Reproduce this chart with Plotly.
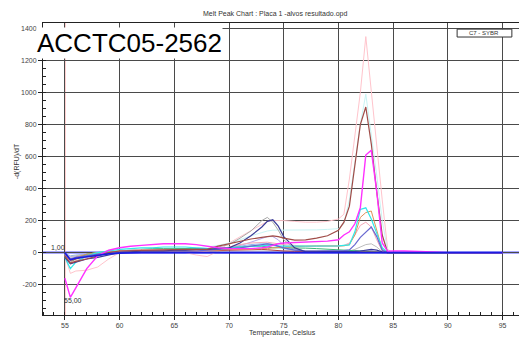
import plotly.graph_objects as go

# Temperatures (Celsius)
T = [55, 55.5, 56,
     57, 58, 59, 60, 61, 62, 63, 64, 65, 66,
     67, 68, 69, 70, 71, 72, 73,
     73.5, 74, 74.5, 75,
     76, 77, 78, 79, 80,
     80.5, 81, 81.5, 82, 82.5, 83, 83.5, 84, 84.5, 85,
     86, 88, 90, 95]

pink_hi = [-20, -130, -115,
           -110, -90, -40, 0, 10, 15, 20, 15, 10, 0,
           -15, -25, 10, 60, 100, 140, 180,
           195, 200, 200, 200,
           195, 190, 190, 195, 210,
           240, 460, 730, 1000, 1350, 1000, 680, 330, 20, 0,
           0, 0, 0, 0]
cyan_light = [-10, -50, -40,
              -20, -10, 0, 5, 10, 15, 20, 25, 25, 25,
              30, 35, 45, 60, 80, 105, 125,
              135, 140, 140, 140,
              140, 140, 142, 145, 150,
              180, 330, 560, 800, 990, 750, 480, 200, 10, 0,
              0, 0, 0, 0]
brown = [-20, -65, -55,
         -40, -20, 0, 10, 12, 15, 15, 18, 20, 20,
         20, 20, 40, 55, 70, 85, 95,
         100, 105, 100, 90,
         78, 80, 90, 105, 140,
         190, 290, 540, 800, 910, 680, 380, 110, 0, 0,
         0, 0, 0, 0]
magenta = [-160, -280, -220,
           -100, -20, 15, 30, 40, 45, 50, 55, 55, 55,
           50, 40, 30, 25, 25, 25, 30,
           35, 45, 55, 60,
           62, 65, 68, 72, 80,
           110, 130, 180, 280, 610, 640, 380, 60, 8, 10,
           10, 5, 0, 0]
cyan = [-30, -100, -60,
        -20, 0, 10, 20, 25, 30, 30, 35, 35, 35,
        30, 25, 25, 30, 35, 40, 45,
        45, 45, 40, 40,
        40, 40, 40, 40, 42,
        45, 48, 130, 270, 280, 210, 120, 30, 0, 0,
        0, 0, 0, 0]
orange = [-10, -50, -30,
          -10, 0, 5, 10, 10, 15, 15, 15, 15, 15,
          15, 15, 15, 20, 20, 20, 25,
          25, 30, 32, 35,
          40, 40, 42, 42, 42,
          42, 50, 110, 220, 250, 260, 140, 20, 0, 0,
          0, 0, 0, 0]
pink_lo = [-15, -60, -50,
           -30, -15, 0, 10, 15, 20, 20, 20, 20, 15,
           10, 10, 20, 35, 50, 60, 65,
           65, 60, 55, 50,
           45, 40, 40, 40, 40,
           45, 60, 110, 170, 190, 160, 80, 10, 0, 0,
           0, 0, 0, 0]
slate = [-10, -40, -30,
         -20, -10, 0, 5, 10, 10, 10, 10, 10, 10,
         10, 15, 20, 25, 30, 40, 50,
         55, 50, 40, 30,
         15, 10, 10, 10, 10,
         12, 17, 50, 95, 130, 160, 100, 15, 0, 0,
         0, 0, 0, 0]
silver = [-5, -25, -20,
          -10, 0, 5, 5, 5, 5, 5, 5, 5, 5,
          5, 5, 5, 10, 10, 10, 10,
          10, 10, 10, 10,
          10, 10, 10, 10, 10,
          10, 10, 20, 35, 50, 55, 35, 5, 0, 0,
          0, 0, 0, 0]
gray = [-20, -40, -30,
        -15, -5, 0, 5, 5, 10, 10, 10, 15, 15,
        20, 25, 35, 50, 90, 135, 200,
        220, 190, 140, 80,
        25, 10, 10, 10, 10,
        10, 10, 10, 10, 10, 10, 5, 0, 0, 0,
        0, 0, 0, 0]
dark_slate = [-30, -70, -60,
              -40, -30, -15, 0, 5, 10, 10, 10, 15, 15,
              20, 20, 25, 30, 60, 105, 160,
              195, 205, 165, 100,
              30, 5, 5, 5, 5,
              5, 5, 8, 10, 15, 20, 15, 5, 0, 0,
              0, 0, 0, 0]
lavender = [-10, -30, -25,
            -15, -5, 0, 5, 10, 10, 15, 15, 20, 20,
            20, 25, 25, 30, 45, 65, 90,
            100, 100, 80, 45,
            20, 10, 10, 10, 10,
            10, 10, 10, 10, 10, 10, 5, 0, 0, 0,
            0, 0, 0, 0]
light_blue = [-5, -20, -15,
              -10, -5, 0, 5, 10, 15, 20, 20, 20, 20,
              20, 20, 25, 30, 40, 50, 55,
              55, 50, 40, 25,
              15, 10, 10, 10, 10,
              10, 10, 10, 10, 10, 10, 5, 0, 0, 0,
              0, 0, 0, 0]
green = [-20, -60, -40,
         -10, 0, 5, 10, 15, 20, 25, 25, 25, 25,
         25, 20, 25, 30, 35, 40, 40,
         35, 30, 30, 30,
         30, 28, 25, 22, 20,
         18, 15, 12, 10, 8, 5, 2, 0, 0, 0,
         0, 0, 0, 0]
dark_red = [-15, -50, -40,
            -25, -15, -5, 0, 5, 10, 10, 10, 10, 10,
            10, 10, 12, 15, 18, 20, 20,
            18, 15, 12, 10,
            8, 6, 5, 5, 5,
            5, 5, 5, 5, 5, 5, 3, 0, 0, 0,
            0, 0, 0, 0]
blue = [0, -45, -35,
        -25, -15, -8, -3, 0, 0, 0, 0, 0, 0,
        0, 0, 0, 0, 0, 0, 0,
        0, 0, 0, 0,
        0, 0, 0, 0, 0,
        0, 0, 0, 0, 0, 0, 0, 0, 0, 0,
        0, 0, 0, 0]

x_ticks = [55, 60, 65, 70, 75, 80, 85, 90, 95]
x_labels = ["55", "60", "65", "70", "75", "80", "85", "90", "95"]
y_ticks = [-200, 0, 200, 400, 600, 800, 1000, 1200, 1400]
y_labels = ["-200", "0", "200", "400", "600", "800", "1000", "1200", "1400"]

series = [
    (pink_hi, "#ffc4cc", 1),
    (cyan_light, "#c8f4f4", 1),
    (light_blue, "#90b4f0", 1),
    (lavender, "#b4a4e8", 1),
    (gray, "#a8a8a8", 1),
    (silver, "#bcbcbc", 1),
    (green, "#3cb878", 1),
    (dark_red, "#b04040", 1),
    (pink_lo, "#f4a8b8", 1),
    (orange, "#e0925a", 1),
    (cyan, "#30e8e8", 1.2),
    (slate, "#6868d0", 1.2),
    (dark_slate, "#3c3c98", 1.2),
    (brown, "#a04c48", 1.2),
    (magenta, "#ff30ff", 1.4),
    (blue, "#1c1ce0", 1.6),
]

fig = go.Figure()
for vals, col, w in series:
    fig.add_trace(go.Scatter(x=T, y=vals, mode="lines",
                             line=dict(color=col, width=w), showlegend=False,
                             hoverinfo="skip"))

font = "Arial, Liberation Sans, sans-serif"


def note(text, x, y, size=7, **kw):
    return dict(text=text, xref="paper", yref="paper", x=x, y=y,
                xanchor="center", yanchor="middle", showarrow=False,
                font=dict(size=size, color=kw.pop("color", "#333"), family=font), **kw)


fig.update_layout(
    width=519, height=338, autosize=False,
    margin=dict(l=43, r=0, t=23, b=23),
    paper_bgcolor="white", plot_bgcolor="white",
    font=dict(family=font, size=7, color="#333"),
    showlegend=False,
    xaxis=dict(range=[53, 96.5], tickvals=x_ticks, ticktext=x_labels,
               ticks="outside", ticklen=4, tickcolor="#222",
               showline=True, linecolor="#222", linewidth=1, mirror=True,
               showgrid=True, gridcolor="#4a4a4a", gridwidth=1, zeroline=False,
               tickfont=dict(size=7, color="#444"),
               minor=dict(dtick=1, ticks="inside", ticklen=3, tickcolor="#222", showgrid=False)),
    yaxis=dict(range=[-390, 1435], tickvals=y_ticks, ticktext=y_labels,
               ticks="outside", ticklen=4, tickcolor="#222",
               showline=True, linecolor="#222", linewidth=1,
               showgrid=True, gridcolor="#4a4a4a", gridwidth=1, zeroline=False,
               tickfont=dict(size=7, color="#444"),
               minor=dict(dtick=50, ticks="inside", ticklen=3, tickcolor="#222", showgrid=False)),
    shapes=[
        dict(type="line", xref="paper", yref="y", x0=0, x1=1, y0=0, y1=0,
             line=dict(color="#a8a8ff", width=3), layer="between"),
        dict(type="line", xref="x", yref="paper", x0=55, x1=55, y0=0, y1=1,
             line=dict(color="#ff8080", width=1), layer="between"),
        dict(type="rect", xref="paper", yref="paper", x0=0.870, x1=0.985, y0=0.952, y1=0.979,
             line=dict(color="#333", width=1), fillcolor="white", layer="above"),
    ],
    annotations=[
        note("Melt Peak Chart : Placa 1 -alvos resultado.opd", 0.487, 1.031),
        note("-d(RFU)/dT", -0.0546, 0.527, textangle=-90),
        note("Temperature, Celsius", 0.504, -0.0616),
        note("ACCTC05-2562", 0.1807, 0.9315, size=26, color="black",
             bgcolor="white", borderpad=0),
        note("1,00", 0.0315, 0.2295),
        note("55,00", 0.064, 0.048),
        note("C7 - SYBR", 0.9275, 0.9655, size=6),
    ],
)

fig.write_html("out.html")
